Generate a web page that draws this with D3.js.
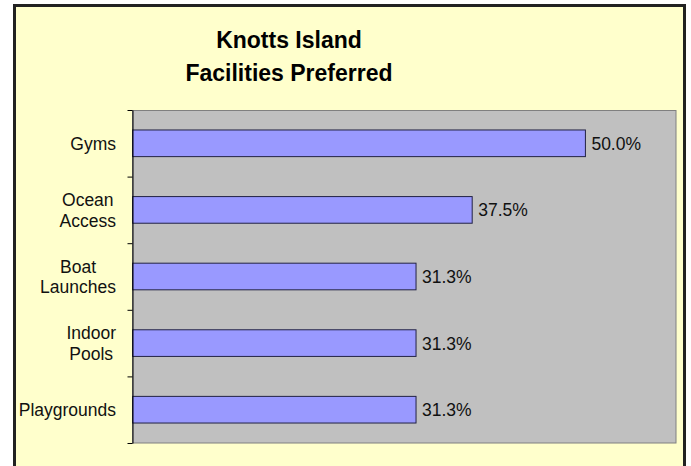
<!DOCTYPE html>
<html>
<head>
<meta charset="utf-8">
<script src="https://cdn.jsdelivr.net/npm/d3@7"></script>
<style>
  body { margin: 0; background: #fff; }
  svg { display: block; font-family: Arial, "Liberation Sans", sans-serif; }
</style>
</head>
<body>
<div id="chart"></div>
<script>
// Chart data
const titleLines = ["Knotts Island", "Facilities Preferred"];
const categories = ["Gyms", "Ocean Access", "Boat Launches", "Indoor Pools", "Playgrounds"];
const categoryLines = [["Gyms"], ["Ocean", "Access"], ["Boat", "Launches"], ["Indoor", "Pools"], ["Playgrounds"]];
const values = [0.5, 0.375, 0.313, 0.313, 0.313];
const xMax = 0.6;

let width = 691, height = 466;
let plot = { left: 132.5, right: 676, top: 110, bottom: 443 };

let svg = d3.select('#chart')
    .append('svg')
    .attr('width', width)
    .attr('height', height);

// Chart frame
svg.append('rect')
    .attr('x', 14.5)
    .attr('y', 5.5)
    .attr('width', 670)
    .attr('height', 500)
    .attr('fill', '#ffffcc')
    .attr('stroke', '#222')
    .attr('stroke-width', 3);

// Title
titleLines.forEach((t, i) => {
    svg.append('text')
        .attr('x', 289)
        .attr('y', 48 + i * 33)
        .attr('text-anchor', 'middle')
        .attr('font-size', 23)
        .attr('font-weight', 'bold')
        .attr('fill', '#000')
        .text(t);
});

// Scales
const xScale = d3.scaleLinear()
    .domain([0, xMax])
    .range([plot.left, plot.right]);

const yScale = d3.scaleBand()
    .domain(categories)
    .range([plot.top, plot.bottom])
    .paddingInner(0.6)
    .paddingOuter(0.3);

const step = yScale.step();

// Plot area background
svg.append('rect')
    .attr('x', plot.left)
    .attr('y', plot.top + 0.5)
    .attr('width', plot.right - plot.left)
    .attr('height', plot.bottom - plot.top - 0.5)
    .attr('fill', '#c0c0c0')
    .attr('stroke', '#808080')
    .attr('stroke-width', 1);

// Bars
svg.selectAll('.bar')
    .data(values)
    .enter()
    .append('rect')
    .attr('class', 'bar')
    .attr('x', xScale(0))
    .attr('y', (d, i) => yScale(categories[i]))
    .attr('width', d => xScale(d) - xScale(0))
    .attr('height', yScale.bandwidth())
    .attr('fill', '#9999ff')
    .attr('stroke', '#222244')
    .attr('stroke-width', 1);

// Value labels
const fmt = d3.format('.1%');
svg.selectAll('.val')
    .data(values)
    .enter()
    .append('text')
    .attr('class', 'val')
    .attr('x', d => xScale(d) + 6)
    .attr('y', (d, i) => yScale(categories[i]) + yScale.bandwidth() / 2 + 6.5)
    .attr('font-size', 17.5)
    .attr('fill', '#111')
    .text(d => fmt(d));

// Category axis: ticks at band boundaries
const edgeScale = d3.scaleLinear()
    .domain([0, categories.length])
    .range([plot.top, plot.bottom]);

svg.append('g')
    .attr('transform', `translate(${plot.left},0)`)
    .call(d3.axisLeft(edgeScale)
        .tickValues(d3.range(categories.length + 1))
        .tickFormat('')
        .tickSizeInner(5)
        .tickSizeOuter(0))
    .call(g => g.select('.domain').attr('stroke', '#000'))
    .call(g => g.selectAll('.tick line').attr('stroke', '#000'));

// Category labels (multi-line, centred block, right aligned)
const labelRight = 116;
categoryLines.forEach((lines, i) => {
    const cy = yScale(categories[i]) + yScale.bandwidth() / 2;
    const g = svg.append('g');
    const texts = lines.map((l, j) => g.append('text')
        .attr('text-anchor', 'middle')
        .attr('font-size', 17.5)
        .attr('fill', '#111')
        .attr('y', cy + 6.5 + (j - (lines.length - 1) / 2) * 20.5)
        .text(l));
    const maxW = d3.max(texts, t => t.node().getComputedTextLength());
    texts.forEach(t => t.attr('x', labelRight - maxW / 2));
});
</script>
</body>
</html>
